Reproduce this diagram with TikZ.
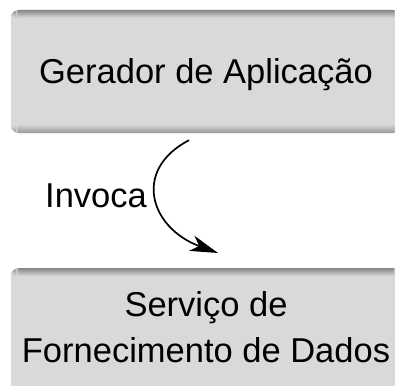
\documentclass[tikz,border=0pt]{standalone}
\usepackage{fontspec}
\setmainfont{Liberation Sans}
\usetikzlibrary{arrows.meta,calc}
\definecolor{boxgray}{HTML}{D9D9D9}
\definecolor{edgegray}{HTML}{858585}
\definecolor{lowgray}{HTML}{9E9E9E}

\begin{document}
\begin{tikzpicture}[x=1pt,y=-1pt,
  every text node part/.style={align=center},
  bigtext/.style={font=\fontsize{34.5}{46}\selectfont},
  box/.style={bigtext, rounded corners=8pt, fill=boxgray, inner sep=0pt,
    minimum width=390pt,
    path picture={
      \foreach \i in {0,...,8} {
        \pgfmathtruncatemacro\p{\i*12.5}
        \fill[boxgray!\p!edgegray]
          ([yshift={-\i*1pt}]path picture bounding box.north west) rectangle
          ([yshift={-(\i+1.1)*1pt}]path picture bounding box.north east);
        \fill[boxgray!\p!lowgray]
          ([yshift={\i*1pt}]path picture bounding box.south west) rectangle
          ([yshift={(\i+1.1)*1pt}]path picture bounding box.south east);
      }}}]
  \useasboundingbox (0,0) rectangle (395,385);

  \node[box, minimum height=123pt, text depth=0pt] (gerador) at (206,71.5) {Gerador de Aplicação};
  \node[box, anchor=north, inner ysep=23pt, text depth=60pt] (servico) at (206,268) {Serviço de\\Fornecimento de Dados};

  \node[bigtext, inner sep=0pt, text depth=0pt] (invoca) at (96,196) {Invoca};

  \draw[line width=1.7pt, -{Stealth[length=28pt,width=16pt,inset=8pt]}]
    ($(gerador.south)+(-17,7)$) .. controls (132,170) and (150,228) .. ($(servico.north)+(12,-15)$);
\end{tikzpicture}
\end{document}
